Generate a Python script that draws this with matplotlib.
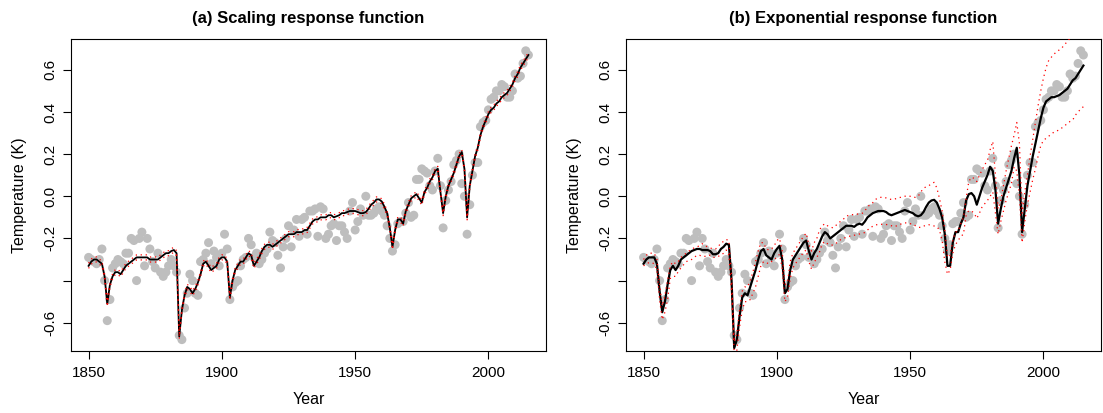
import numpy as np
import matplotlib
matplotlib.use("Agg")
import matplotlib.pyplot as plt

years = list(range(1850, 2016))

obs = [
    -0.29, -0.30, -0.31, -0.32, -0.30, -0.25, -0.40, -0.59, -0.49, -0.34,
    -0.32, -0.30, -0.31, -0.32, -0.27, -0.27, -0.20, -0.21, -0.40, -0.20,
    -0.17, -0.33, -0.20, -0.25, -0.31, -0.34, -0.27, -0.36, -0.38, -0.36,
    -0.33, -0.30, -0.33, -0.36, -0.66, -0.68, -0.53, -0.46, -0.37, -0.40,
    -0.46, -0.47, -0.31, -0.30, -0.27, -0.22, -0.32, -0.26, -0.29, -0.33,
    -0.27, -0.18, -0.25, -0.49, -0.43, -0.41, -0.40, -0.33, -0.30, -0.29,
    -0.20, -0.23, -0.29, -0.27, -0.32, -0.30, -0.27, -0.25, -0.17, -0.21,
    -0.22, -0.28, -0.34, -0.24, -0.20, -0.14, -0.24, -0.16, -0.11, -0.19,
    -0.11, -0.10, -0.18, -0.07, -0.07, -0.06, -0.19, -0.05, -0.06, -0.20,
    -0.18, -0.14, -0.13, -0.21, -0.14, -0.14, -0.17, -0.20, -0.07, -0.03,
    -0.16, -0.12, -0.06, -0.09, 0.00, -0.09, -0.09, -0.08, -0.06, -0.05,
    -0.07, -0.09, -0.14, -0.20, -0.26, -0.23, -0.13, -0.12, -0.12, -0.08,
    -0.03, -0.10, -0.09, 0.08, 0.08, 0.13, 0.12, 0.11, 0.05, 0.03,
    0.12, 0.18, 0.05, -0.15, -0.02, 0.03, 0.07, 0.15, 0.17, 0.20,
    0.06, 0.00, -0.18, -0.04, 0.10, 0.16, 0.16, 0.33, 0.35, 0.36,
    0.41, 0.46, 0.47, 0.50, 0.50, 0.53, 0.52, 0.47, 0.47, 0.50,
    0.58, 0.56, 0.57, 0.63, 0.69, 0.67,
]

fit_scaling = [
    -0.33, -0.31, -0.30, -0.30, -0.31, -0.32, -0.38, -0.51, -0.42, -0.38,
    -0.36, -0.36, -0.37, -0.35, -0.33, -0.32, -0.31, -0.30, -0.29, -0.29,
    -0.29, -0.29, -0.29, -0.30, -0.30, -0.30, -0.30, -0.29, -0.28, -0.27,
    -0.27, -0.26, -0.255, -0.27, -0.665, -0.54, -0.47, -0.43, -0.44, -0.46,
    -0.44, -0.41, -0.37, -0.32, -0.31, -0.33, -0.35, -0.34, -0.33, -0.30,
    -0.29, -0.29, -0.31, -0.48, -0.40, -0.35, -0.33, -0.31, -0.31, -0.29,
    -0.27, -0.28, -0.33, -0.31, -0.29, -0.26, -0.24, -0.23, -0.23, -0.24,
    -0.23, -0.22, -0.21, -0.20, -0.19, -0.18, -0.18, -0.18, -0.17, -0.17,
    -0.17, -0.16, -0.16, -0.14, -0.12, -0.11, -0.11, -0.10, -0.10, -0.10,
    -0.09, -0.09, -0.10, -0.095, -0.09, -0.08, -0.08, -0.075, -0.07, -0.07,
    -0.07, -0.075, -0.08, -0.08, -0.075, -0.06, -0.04, -0.03, -0.015, -0.015,
    -0.025, -0.05, -0.08, -0.15, -0.24, -0.16, -0.11, -0.11, -0.13, -0.07,
    -0.04, -0.01, 0.00, 0.01, -0.01, -0.03, 0.02, 0.04, 0.07, 0.09,
    0.12, 0.13, 0.02, -0.08, 0.00, 0.05, 0.08, 0.11, 0.15, 0.19,
    0.21, 0.13, -0.10, 0.05, 0.12, 0.19, 0.23, 0.29, 0.33, 0.36,
    0.39, 0.41, 0.42, 0.44, 0.45, 0.47, 0.48, 0.49, 0.51, 0.53,
    0.56, 0.58, 0.61, 0.63, 0.65, 0.67,
]
scaling_ci_halfwidth = 0.012

fit_exp = [
    -0.32, -0.30, -0.29, -0.29, -0.29, -0.32, -0.45, -0.55, -0.50, -0.42,
    -0.35, -0.33, -0.35, -0.33, -0.30, -0.29, -0.28, -0.27, -0.26, -0.255,
    -0.25, -0.25, -0.255, -0.255, -0.255, -0.26, -0.275, -0.275, -0.27, -0.25,
    -0.24, -0.225, -0.23, -0.40, -0.72, -0.68, -0.57, -0.48, -0.46, -0.47,
    -0.43, -0.39, -0.35, -0.30, -0.26, -0.25, -0.28, -0.29, -0.30, -0.27,
    -0.25, -0.235, -0.30, -0.46, -0.44, -0.35, -0.30, -0.28, -0.26, -0.24,
    -0.22, -0.21, -0.26, -0.30, -0.27, -0.25, -0.22, -0.19, -0.17, -0.18,
    -0.20, -0.19, -0.18, -0.17, -0.16, -0.15, -0.14, -0.14, -0.14, -0.145,
    -0.135, -0.13, -0.135, -0.12, -0.10, -0.09, -0.08, -0.075, -0.07, -0.07,
    -0.07, -0.075, -0.085, -0.09, -0.085, -0.08, -0.075, -0.07, -0.065, -0.07,
    -0.075, -0.08, -0.09, -0.095, -0.09, -0.075, -0.05, -0.03, -0.02, -0.017,
    -0.03, -0.06, -0.10, -0.18, -0.33, -0.33, -0.22, -0.17, -0.17, -0.13,
    -0.10, -0.02, 0.01, 0.015, 0.00, -0.04, 0.00, 0.04, 0.07, 0.10,
    0.14, 0.12, 0.03, -0.13, -0.06, 0.00, 0.04, 0.08, 0.12, 0.18,
    0.23, 0.10, -0.17, -0.06, 0.05, 0.12, 0.19, 0.25, 0.31, 0.37,
    0.42, 0.45, 0.46, 0.47, 0.47, 0.475, 0.48, 0.49, 0.50, 0.51,
    0.53, 0.55, 0.56, 0.58, 0.60, 0.62,
]

exp_upper = [
    -0.30, -0.28, -0.27, -0.27, -0.27, -0.30, -0.42, -0.52, -0.47, -0.40,
    -0.33, -0.31, -0.32, -0.31, -0.29, -0.28, -0.27, -0.26, -0.25, -0.245,
    -0.24, -0.235, -0.225, -0.235, -0.24, -0.245, -0.25, -0.25, -0.24, -0.22,
    -0.215, -0.205, -0.21, -0.38, -0.69, -0.65, -0.54, -0.45, -0.43, -0.43,
    -0.40, -0.36, -0.31, -0.26, -0.22, -0.22, -0.25, -0.255, -0.25, -0.235,
    -0.21, -0.20, -0.26, -0.42, -0.41, -0.31, -0.27, -0.25, -0.23, -0.21,
    -0.19, -0.175, -0.23, -0.26, -0.22, -0.20, -0.16, -0.14, -0.13, -0.14,
    -0.145, -0.15, -0.14, -0.128, -0.118, -0.108, -0.095, -0.09, -0.088, -0.086,
    -0.085, -0.083, -0.081, -0.07, -0.05, -0.04, -0.03, -0.015, -0.008, -0.005,
    -0.005, -0.008, -0.013, -0.015, -0.014, -0.01, -0.006, -0.004, 0.0, 0.002,
    0.0, -0.005, -0.005, 0.0, 0.02, 0.038, 0.045, 0.05, 0.06, 0.066,
    0.04, -0.01, -0.07, -0.16, -0.29, -0.28, -0.21, -0.17, -0.165, -0.13,
    -0.10, -0.01, 0.07, 0.09, 0.085, 0.07, 0.10, 0.125, 0.15, 0.17,
    0.22, 0.26, 0.10, -0.06, -0.02, 0.05, 0.12, 0.18, 0.24, 0.29,
    0.35, 0.25, -0.08, 0.02, 0.10, 0.19, 0.27, 0.35, 0.43, 0.50,
    0.56, 0.61, 0.645, 0.66, 0.675, 0.685, 0.695, 0.705, 0.72, 0.735,
    0.75, 0.76, 0.77, 0.78, 0.79, 0.80,
]

exp_lower = [
    -0.33, -0.32, -0.315, -0.315, -0.32, -0.35, -0.49, -0.585, -0.55, -0.49,
    -0.39, -0.38, -0.38, -0.357, -0.34, -0.325, -0.31, -0.305, -0.30, -0.29,
    -0.28, -0.28, -0.285, -0.285, -0.28, -0.28, -0.29, -0.29, -0.285, -0.28,
    -0.27, -0.255, -0.28, -0.45, -0.75, -0.73, -0.62, -0.54, -0.50, -0.50,
    -0.49, -0.46, -0.43, -0.38, -0.33, -0.31, -0.315, -0.32, -0.31, -0.30,
    -0.29, -0.275, -0.34, -0.50, -0.48, -0.39, -0.34, -0.32, -0.30, -0.285,
    -0.265, -0.255, -0.31, -0.345, -0.315, -0.29, -0.265, -0.225, -0.215, -0.225,
    -0.23, -0.232, -0.225, -0.215, -0.205, -0.199, -0.195, -0.19, -0.188, -0.185,
    -0.182, -0.179, -0.176, -0.172, -0.16, -0.15, -0.142, -0.136, -0.134, -0.133,
    -0.133, -0.134, -0.136, -0.14, -0.144, -0.14, -0.134, -0.13, -0.126, -0.127,
    -0.13, -0.132, -0.14, -0.147, -0.148, -0.142, -0.137, -0.135, -0.138, -0.141,
    -0.144, -0.16, -0.21, -0.31, -0.37, -0.35, -0.27, -0.23, -0.21, -0.19,
    -0.18, -0.09, -0.068, -0.07, -0.08, -0.105, -0.08, -0.05, -0.035, -0.02,
    0.0, 0.02, -0.08, -0.18, -0.12, -0.07, -0.02, 0.02, 0.06, 0.14,
    0.12, 0.0, -0.22, -0.12, -0.04, 0.02, 0.08, 0.13, 0.19, 0.24,
    0.265, 0.275, 0.285, 0.295, 0.305, 0.31, 0.315, 0.325, 0.335, 0.345,
    0.355, 0.362, 0.385, 0.40, 0.414, 0.425,
]

for arr in (obs, fit_scaling, fit_exp, exp_upper, exp_lower):
    assert len(arr) == len(years), len(arr)

titles = ["(a) Scaling response function", "(b) Exponential response function"]
xticks = [1850, 1900, 1950, 2000]
yticks = [-0.6, -0.4, -0.2, 0.0, 0.2, 0.4, 0.6]
ytick_labels = ["-0.6", "", "-0.2", "0.0", "0.2", "0.4", "0.6"]
xlabel = "Year"
ylabel = "Temperature (K)"

plt.rcParams['font.family'] = ['Liberation Sans', 'DejaVu Sans']
plt.rcParams['axes.linewidth'] = 0.8

W, H = 1103, 413
fig = plt.figure(figsize=(W / 100, H / 100), dpi=100)
ax_w, ax_h = 475.0, 312.0
ax_a = fig.add_axes([71 / W, 1 - 351 / H, ax_w / W, ax_h / H])
ax_b = fig.add_axes([626 / W, 1 - 351 / H, ax_w / W, ax_h / H])

yr = np.array(years)
red_dots = (0, (1.0, 3.0))

def style(ax, title):
    ax.set_xlim(1843.4, 2021.6)
    ax.set_ylim(-0.734, 0.746)
    ax.set_xticks(xticks)
    ax.set_xticklabels([str(t) for t in xticks])
    ax.set_yticks(yticks)
    ax.set_yticklabels(ytick_labels)
    ax.tick_params(axis='both', direction='out', length=5.5, width=0.8,
                   labelsize=11, colors='black')
    ax.tick_params(axis='x', pad=5)
    ax.tick_params(axis='y', pad=4)
    for lab in ax.get_yticklabels():
        lab.set_rotation(90)
        lab.set_va('center')
    for s in ax.spines.values():
        s.set_color('black')
    ax.text(0.5, 1 + 21 / ax_h, title, transform=ax.transAxes,
            ha='center', va='center', fontsize=12, fontweight='bold')
    ax.text(0.5, -49 / ax_h, xlabel, transform=ax.transAxes,
            ha='center', va='center', fontsize=11.5)
    ax.text(-51 / ax_w, 0.5, ylabel, transform=ax.transAxes,
            ha='center', va='center', rotation=90, fontsize=11.5)

# (a)
ax_a.scatter(yr, obs, s=42, color='#BEBEBE', edgecolors='none', zorder=1)
ax_a.plot(yr, fit_scaling, color='black', lw=1.3, zorder=2)
ax_a.plot(yr, np.array(fit_scaling) + scaling_ci_halfwidth, color='red',
          lw=0.9, linestyle=red_dots, zorder=3)
ax_a.plot(yr, np.array(fit_scaling) - scaling_ci_halfwidth, color='red',
          lw=0.9, linestyle=red_dots, zorder=3)
style(ax_a, titles[0])

# (b)
ax_b.scatter(yr, obs, s=42, color='#BEBEBE', edgecolors='none', zorder=1)
ax_b.plot(yr, fit_exp, color='black', lw=1.6, zorder=2)
ax_b.plot(yr, exp_upper, color='red', lw=0.9, linestyle=red_dots, zorder=3)
ax_b.plot(yr, exp_lower, color='red', lw=0.9, linestyle=red_dots, zorder=3)
style(ax_b, titles[1])

fig.savefig("out.png", dpi=100)
